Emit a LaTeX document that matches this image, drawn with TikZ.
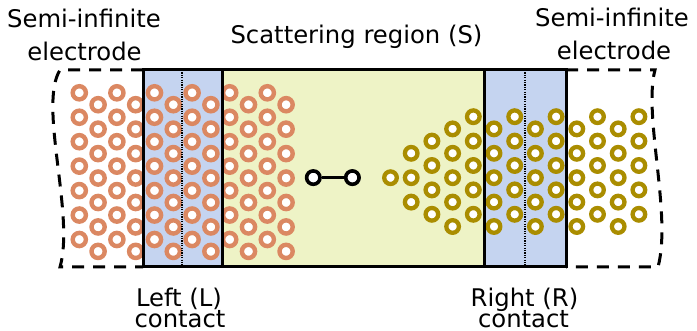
\documentclass[tikz,border=0pt]{standalone}
\usepackage{fontspec}
\setmainfont{DejaVu Sans}
\begin{document}
\begin{tikzpicture}[x=1pt,y=-1pt,
  lbl/.style={anchor=base,inner sep=0pt,font=\fontsize{24.3}{28}\selectfont},
  atomL/.style={draw=orangeatom,fill=white,line width=4.4pt},
  atomR/.style={draw=goldatom,fill=white,line width=4.3pt},
  molatom/.style={circle,draw=black,fill=white,line width=3.6pt,minimum size=13.4pt,inner sep=0pt},
  frame/.style={line width=3pt,line cap=rect},
  elec/.style={line width=3pt,dash pattern=on 12pt off 9pt},
  cut/.style={line width=2.6pt,dash pattern=on 1.2pt off 1.2pt}]
\definecolor{contactblue}{HTML}{C5D4F0}
\definecolor{scatteryellow}{HTML}{EEF3C6}
\definecolor{orangeatom}{HTML}{DB8862}
\definecolor{goldatom}{HTML}{AA8D00}
\useasboundingbox (0,0) rectangle (697,331);

% regions
\fill[contactblue] (143,70) rectangle (222,267);
\fill[scatteryellow] (222,70) rectangle (484,267);
\fill[contactblue] (484,70) rectangle (566,267);

% left lattice
\foreach \k in {0,...,11}{
  \pgfmathsetmacro{\xx}{79.3+18.8*\k}
  \pgfmathsetmacro{\yo}{mod(\k,2)==0 ? 92.8 : 104.7}
  \foreach \j in {0,...,6}{
    \draw[atomL] (\xx,\yo+24.45*\j) circle[radius=6.6];
  }
}

% right lattice
\draw[atomR] (390.5,177.7) circle[radius=6.3];
\foreach \r in {-2,0,2}{\draw[atomR] (411.2,177.7+12.2*\r) circle[radius=6.3];}
\foreach \r in {-3,-1,1,3}{\draw[atomR] (431.9,177.7+12.2*\r) circle[radius=6.3];}
\foreach \m in {3,...,12}{
  \pgfmathsetmacro{\xx}{390.5+20.7*\m}
  \ifodd\m
    \foreach \r in {-4,-2,0,2,4}{\draw[atomR] (\xx,177.7+12.2*\r) circle[radius=6.3];}
  \else
    \foreach \r in {-5,-3,-1,1,3}{\draw[atomR] (\xx,177.7+12.2*\r) circle[radius=6.3];}
  \fi
}

% contact / scattering region outlines
\draw[cut] (182,70) -- (182,267);
\draw[cut] (525,70) -- (525,267);
\draw[frame] (143,70) rectangle (566,267);
\draw[frame] (222,70) -- (222,267);
\draw[frame] (484,70) -- (484,267);

% semi-infinite electrodes
\draw[elec] (143,70) -- (60,70) .. controls (38,105) and (75,215) .. (60,267) -- (143,267);
\draw[elec] (566,70) -- (655,70) .. controls (643,115) and (672,215) .. (658,267) -- (566,267);

% molecule
\node[molatom] (m1) at (313.3,177.6) {};
\node[molatom] (m2) at (352.4,177.6) {};
\draw[line width=3pt] (m1) -- (m2);

% labels
\node[lbl] (tl1) at (84,27.5) {Semi-infinite};
\node[lbl] (tl2) at (84.5,61) {electrode};
\node[lbl] (tr1) at (612,27) {Semi-infinite};
\node[lbl] (tr2) at (614,60) {electrode};
\node[lbl] (ts) at (356.5,43.3) {Scattering region (S)};
\node[lbl] (bl1) at (179,306.5) {Left (L)};
\node[lbl] (bl2) at (180,327.3) {contact};
\node[lbl] (br1) at (524.5,306.5) {Right (R)};
\node[lbl] (br2) at (523.5,327.3) {contact};
\end{tikzpicture}
\end{document}
